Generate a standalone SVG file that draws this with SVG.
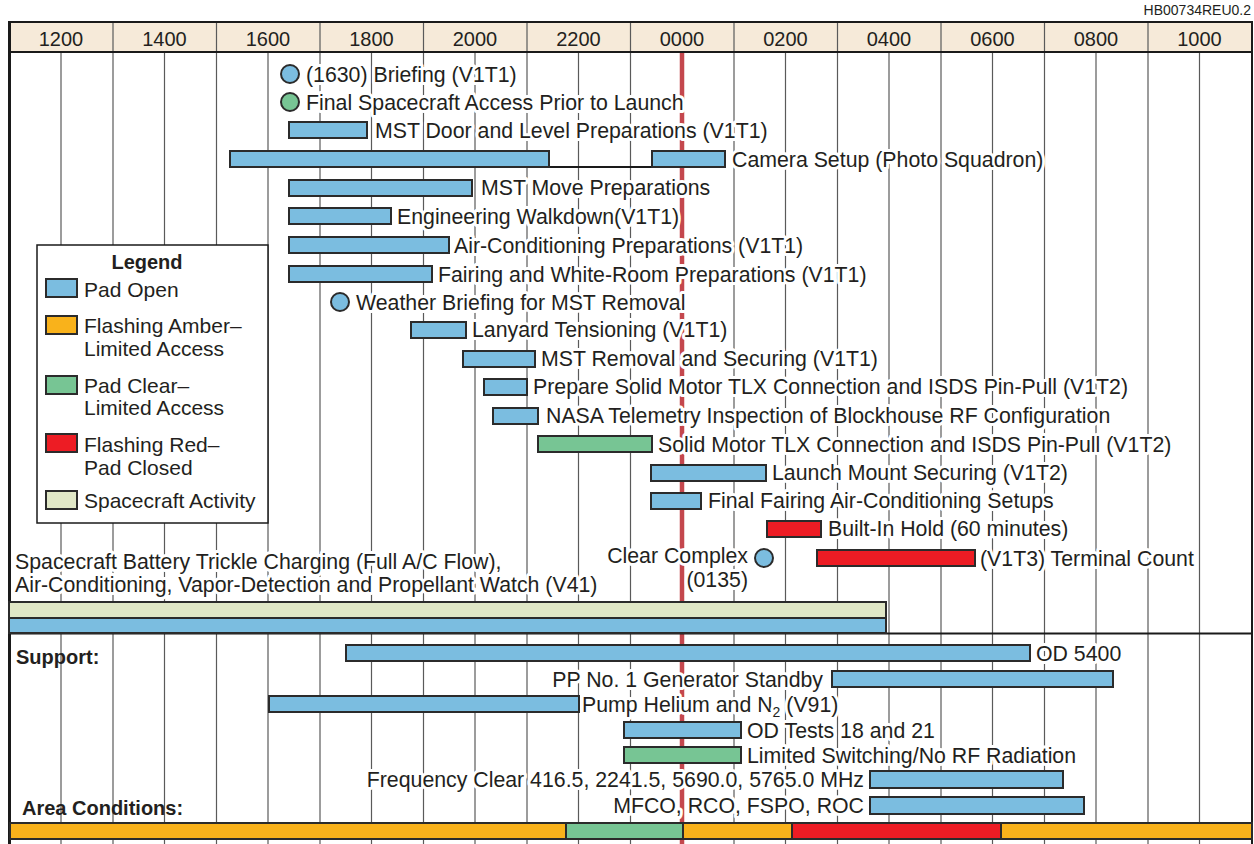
<svg xmlns="http://www.w3.org/2000/svg" width="1254" height="844" viewBox="0 0 1254 844">
<defs>
<style>
text{font-family:"Liberation Sans",Arial,sans-serif;fill:#231f20}
.lbl{font-size:21.3px;stroke:#ffffff;stroke-width:6px;stroke-linejoin:round;paint-order:stroke fill}
.lg{font-size:21px}
.hd{font-size:20px;text-anchor:middle}
.b{font-weight:bold;font-size:20px}
.g1{stroke:#5a5a5a;stroke-width:1.2}
.bar{stroke:#2b2b2b;stroke-width:2}
.blue{fill:#7bbde0}
.amber{fill:#f9b21b}
.green{fill:#77c594}
.red{fill:#ed1c24}
.beige{fill:#e0e7c6}
</style>
</defs>
<rect width="1254" height="844" fill="#ffffff"/>
<text x="1251" y="15" style="font-size:14px" text-anchor="end">HB00734REU0.2</text>
<rect x="9" y="22" width="1243" height="30" fill="#f6ead9"/>
<g id="grid" class="g1">
<line x1="113" y1="22" x2="113" y2="844"/><line x1="216.5" y1="22" x2="216.5" y2="844"/><line x1="320" y1="22" x2="320" y2="844"/><line x1="423.5" y1="22" x2="423.5" y2="844"/><line x1="527" y1="22" x2="527" y2="844"/><line x1="630.5" y1="22" x2="630.5" y2="844"/><line x1="734" y1="22" x2="734" y2="844"/><line x1="837.5" y1="22" x2="837.5" y2="844"/><line x1="941" y1="22" x2="941" y2="844"/><line x1="1044.5" y1="22" x2="1044.5" y2="844"/><line x1="1148" y1="22" x2="1148" y2="844"/>
<line x1="61" y1="52" x2="61" y2="844"/><line x1="164.5" y1="52" x2="164.5" y2="844"/><line x1="268" y1="52" x2="268" y2="844"/><line x1="371.5" y1="52" x2="371.5" y2="844"/><line x1="475" y1="52" x2="475" y2="844"/><line x1="578.5" y1="52" x2="578.5" y2="844"/><line x1="785.5" y1="52" x2="785.5" y2="844"/><line x1="889" y1="52" x2="889" y2="844"/><line x1="992.5" y1="52" x2="992.5" y2="844"/><line x1="1096" y1="52" x2="1096" y2="844"/><line x1="1199.5" y1="52" x2="1199.5" y2="844"/>
</g>
<line x1="682" y1="53" x2="682" y2="844" stroke="#c4474d" stroke-width="4.5"/>
<g id="frame" stroke="#1a1a1a" fill="none">
<line x1="8" y1="22" x2="1253" y2="22" stroke-width="2"/>
<line x1="8" y1="52" x2="1253" y2="52" stroke-width="2"/>
<line x1="9.5" y1="21" x2="9.5" y2="844" stroke-width="3"/>
<line x1="1252" y1="21" x2="1252" y2="844" stroke-width="2"/>
<line x1="9" y1="633.5" x2="1253" y2="633.5" stroke-width="2"/>
</g>
<g id="header-labels">
<text class="hd" x="61" y="46">1200</text><text class="hd" x="164.5" y="46">1400</text><text class="hd" x="268" y="46">1600</text><text class="hd" x="371.5" y="46">1800</text><text class="hd" x="475" y="46">2000</text><text class="hd" x="578.5" y="46">2200</text><text class="hd" x="682" y="46">0000</text><text class="hd" x="785.5" y="46">0200</text><text class="hd" x="889" y="46">0400</text><text class="hd" x="992.5" y="46">0600</text><text class="hd" x="1096" y="46">0800</text><text class="hd" x="1199.5" y="46">1000</text>
</g>
<g id="legend">
<rect x="37" y="245" width="231" height="278" fill="#ffffff" stroke="#1a1a1a" stroke-width="1.5"/>
<text class="b" x="147" y="269" text-anchor="middle">Legend</text>
<rect class="bar blue" x="46" y="279" width="31" height="18"/>
<text class="lg" x="84" y="297">Pad Open</text>
<rect class="bar amber" x="46" y="316" width="31" height="18"/>
<text class="lg" x="84" y="333">Flashing Amber–</text>
<text class="lg" x="84" y="356">Limited Access</text>
<rect class="bar green" x="46" y="376" width="31" height="18"/>
<text class="lg" x="84" y="393">Pad Clear–</text>
<text class="lg" x="84" y="415">Limited Access</text>
<rect class="bar red" x="46" y="434" width="31" height="18"/>
<text class="lg" x="84" y="452">Flashing Red–</text>
<text class="lg" x="84" y="475">Pad Closed</text>
<rect class="bar beige" x="46" y="491" width="31" height="18"/>
<text class="lg" x="84" y="508">Spacecraft Activity</text>
</g>
<g id="connectors">
<line x1="549" y1="167" x2="652" y2="167" stroke="#1a1a1a" stroke-width="2"/>
</g>
<g id="briefing"><circle cx="290" cy="74" r="9" class="bar blue"/><text class="lbl" x="306" y="82">(1630) Briefing (V1T1)</text></g>
<g id="final-access"><circle cx="290" cy="102" r="9" class="bar green"/><text class="lbl" x="306" y="110">Final Spacecraft Access Prior to Launch</text></g>
<g id="mst-door"><rect class="bar blue" x="289" y="122" width="78" height="16"/><text class="lbl" x="375" y="138">MST Door and Level Preparations (V1T1)</text></g>
<g id="camera"><rect class="bar blue" x="230" y="151" width="319" height="16"/><rect class="bar blue" x="652" y="151" width="73" height="16"/><text class="lbl" x="732" y="167">Camera Setup (Photo Squadron)</text></g>
<g id="mst-move"><rect class="bar blue" x="289" y="180" width="183" height="16"/><text class="lbl" x="481" y="195">MST Move Preparations</text></g>
<g id="eng-walk"><rect class="bar blue" x="289" y="208" width="102" height="16"/><text class="lbl" x="397" y="224">Engineering Walkdown(V1T1)</text></g>
<g id="air-cond"><rect class="bar blue" x="289" y="237" width="160" height="16"/><text class="lbl" x="454" y="253">Air-Conditioning Preparations (V1T1)</text></g>
<g id="fairing"><rect class="bar blue" x="289" y="266" width="143" height="16"/><text class="lbl" x="438" y="282">Fairing and White-Room Preparations (V1T1)</text></g>
<g id="weather"><circle cx="340" cy="302" r="9" class="bar blue"/><text class="lbl" x="356" y="310">Weather Briefing for MST Removal</text></g>
<g id="lanyard"><rect class="bar blue" x="411" y="322" width="55" height="16"/><text class="lbl" x="472" y="337">Lanyard Tensioning (V1T1)</text></g>
<g id="mst-removal"><rect class="bar blue" x="463" y="351" width="72" height="16"/><text class="lbl" x="541" y="366">MST Removal and Securing (V1T1)</text></g>
<g id="prepare-tlx"><rect class="bar blue" x="484" y="379" width="43" height="16"/><text class="lbl" x="533" y="394">Prepare Solid Motor TLX Connection and ISDS Pin-Pull (V1T2)</text></g>
<g id="nasa-tlm"><rect class="bar blue" x="493" y="408" width="45" height="16"/><text class="lbl" x="546" y="423">NASA Telemetry Inspection of Blockhouse RF Configuration</text></g>
<g id="solid-tlx"><rect class="bar green" x="538" y="436" width="114" height="16"/><text class="lbl" x="658" y="452">Solid Motor TLX Connection and ISDS Pin-Pull (V1T2)</text></g>
<g id="launch-mount"><rect class="bar blue" x="651" y="465" width="115" height="16"/><text class="lbl" x="772" y="480">Launch Mount Securing (V1T2)</text></g>
<g id="final-fairing"><rect class="bar blue" x="651" y="493" width="50" height="16"/><text class="lbl" x="708" y="508">Final Fairing Air-Conditioning Setups</text></g>
<g id="hold"><rect class="bar red" x="767" y="521" width="54" height="16"/><text class="lbl" x="828" y="536">Built-In Hold (60 minutes)</text></g>
<g id="clear-complex"><text class="lbl" x="748" y="563" text-anchor="end">Clear Complex</text><circle cx="764" cy="558" r="9" class="bar blue"/><text class="lbl" x="748" y="587" text-anchor="end">(0135)</text></g>
<g id="terminal"><rect class="bar red" x="817" y="550" width="158" height="16"/><text class="lbl" x="980" y="566">(V1T3) Terminal Count</text></g>
<g id="battery"><text class="lbl" x="15" y="569">Spacecraft Battery Trickle Charging (Full A/C Flow),</text><text class="lbl" x="15" y="592">Air-Conditioning, Vapor-Detection and Propellant Watch (V41)</text>
<rect class="bar beige" x="9" y="602" width="877" height="16"/><rect class="bar blue" x="9" y="618" width="877" height="15"/></g>
<g id="support-title"><text class="b" x="16" y="664">Support:</text></g>
<g id="od5400"><rect class="bar blue" x="346" y="645" width="684" height="16"/><text class="lbl" x="1036" y="661">OD 5400</text></g>
<g id="pp1"><rect class="bar blue" x="832" y="671" width="281" height="16"/><text class="lbl" x="823" y="687" text-anchor="end">PP No. 1 Generator Standby</text></g>
<g id="pump"><rect class="bar blue" x="269" y="696" width="310" height="16"/><text class="lbl" x="582" y="712">Pump Helium and N<tspan font-size="14" dy="5">2</tspan><tspan dy="-5"> (V91)</tspan></text></g>
<g id="od-tests"><rect class="bar blue" x="624" y="722" width="117" height="16"/><text class="lbl" x="747" y="738">OD Tests 18 and 21</text></g>
<g id="limited-sw"><rect class="bar green" x="624" y="747" width="117" height="16"/><text class="lbl" x="747" y="763">Limited Switching/No RF Radiation</text></g>
<g id="freq"><rect class="bar blue" x="870" y="771" width="193" height="17"/><text class="lbl" x="864" y="787" text-anchor="end">Frequency Clear 416.5, 2241.5, 5690.0, 5765.0 MHz</text></g>
<g id="mfco"><rect class="bar blue" x="870" y="797" width="214" height="17"/><text class="lbl" x="864" y="813" text-anchor="end">MFCO, RCO, FSPO, ROC</text></g>
<g id="area-title"><text class="b" x="22" y="815">Area Conditions:</text></g>
<g id="area-bar">
<rect class="bar amber" x="10" y="823" width="556" height="16"/>
<rect class="bar green" x="566" y="823" width="117" height="16"/>
<rect class="bar amber" x="683" y="823" width="109" height="16"/>
<rect class="bar red" x="792" y="823" width="209" height="16"/>
<rect class="bar amber" x="1001" y="823" width="251" height="16"/>
</g>
</svg>
